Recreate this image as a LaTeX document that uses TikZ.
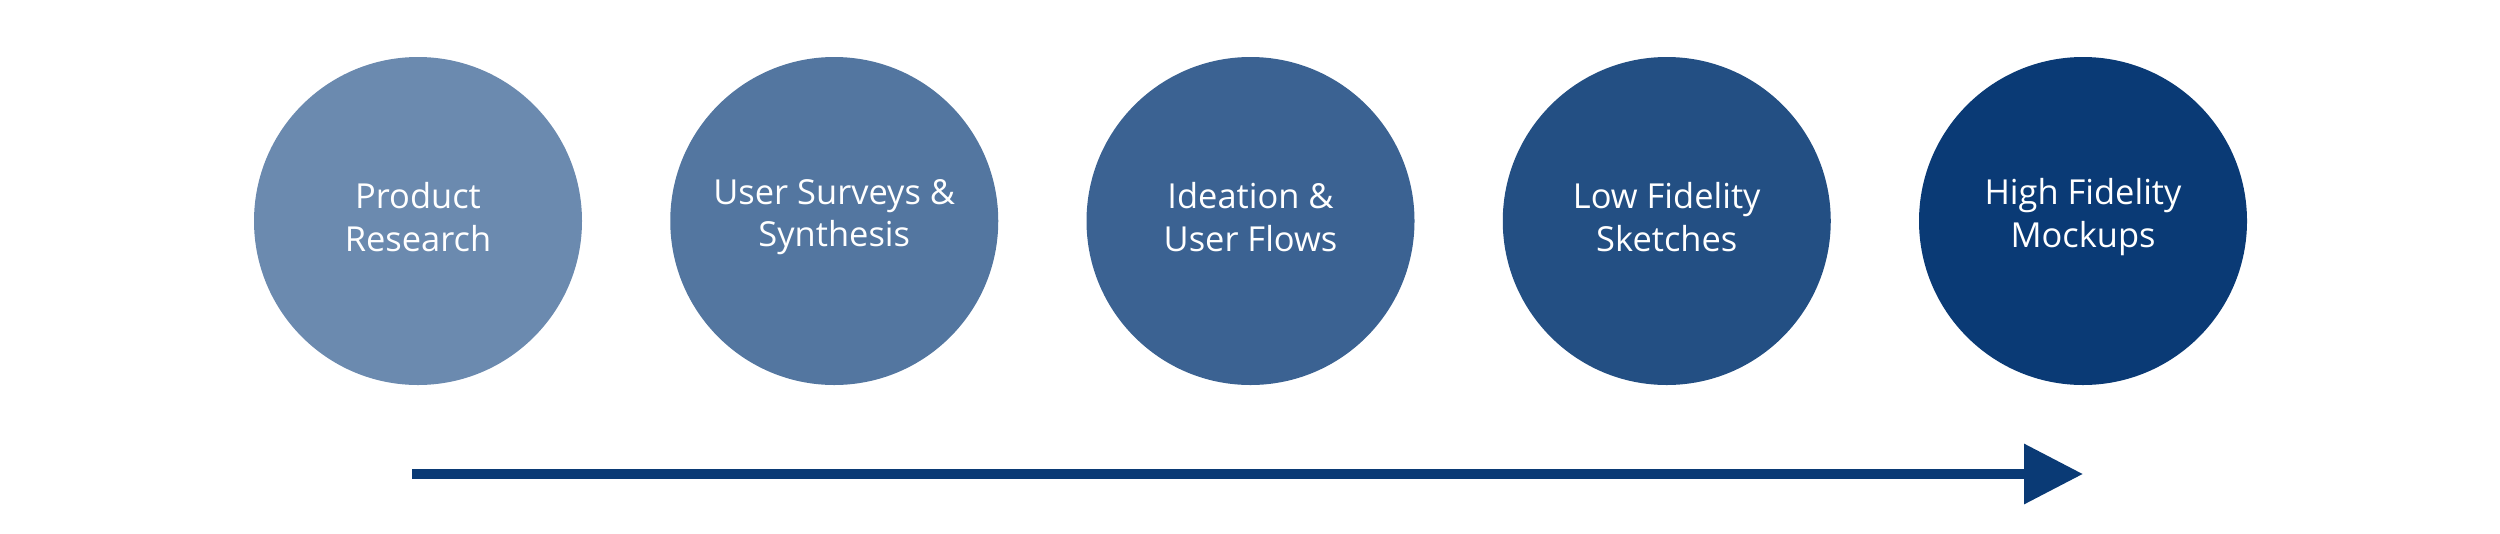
\documentclass[tikz,border=0pt]{standalone}
\usepackage{fontspec}
\setmainfont{Open Sans}
\usetikzlibrary{arrows.meta,positioning}
\definecolor{st1}{HTML}{6B8AAF}
\definecolor{st2}{HTML}{5376A0}
\definecolor{st3}{HTML}{3B6292}
\definecolor{st4}{HTML}{234F83}
\definecolor{st5}{HTML}{0A3A75}
\newcommand{\lbl}[1]{\raisebox{-1.4pt}[0pt][0pt]{\parbox{3cm}{\centering #1}}}
\tikzset{
  stage/.style={circle,minimum size=3.28cm,inner sep=0pt,outer sep=0pt,align=center,text=white,font=\fontsize{9.8}{12.1}\selectfont},
  ar/.style={-{Triangle[length=5.9mm,width=5.8mm]},line width=1mm,draw=st5},
}

\begin{document}
\begin{tikzpicture}[node distance=0.8825cm]
\useasboundingbox (0,0) rectangle (25,5.33);
\node[stage,fill=st1] (res) at (4.18,3.12) {\lbl{Product\\Research}};
\node[stage,fill=st2,right=of res] (srv) {\lbl{User Surveys \&\\Synthesis}};
\node[stage,fill=st3,right=of srv] (ide) {\lbl{Ideation \&\\User Flows}};
\node[stage,fill=st4,right=of ide] (low) {\lbl{Low Fidelity\\Sketches}};
\node[stage,fill=st5,right=of low] (high) {\lbl{High Fidelity\\Mockups}};
% timeline
\coordinate (t0) at (4.12,0.59);
\coordinate (t1) at (high.center |- t0);
\draw[ar] (t0) -- (t1);
\end{tikzpicture}
\end{document}
